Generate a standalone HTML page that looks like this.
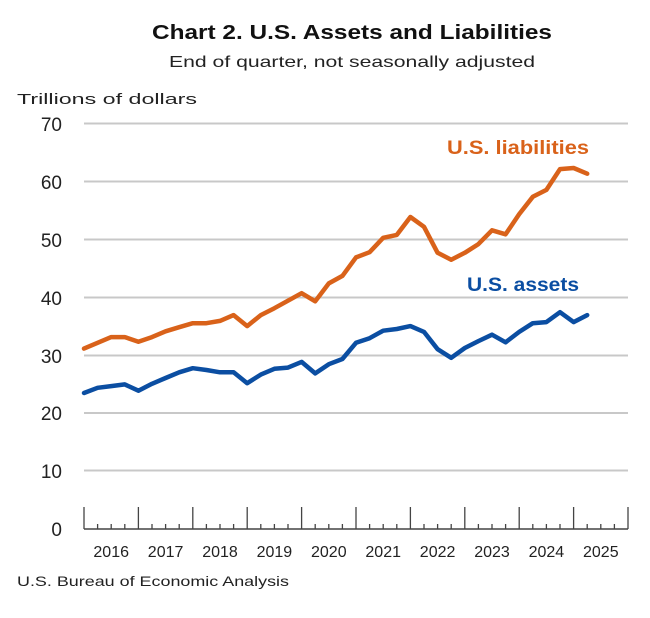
<!DOCTYPE html>
<html><head><meta charset="utf-8"><style>
html,body{margin:0;padding:0;background:#fff;}
svg{display:block;font-family:"Liberation Sans",sans-serif;}
</style></head><body>
<svg width="650" height="618" viewBox="0 0 650 618" xmlns="http://www.w3.org/2000/svg">
<rect width="650" height="618" fill="#fff"/>
<text x="352" y="39" text-anchor="middle" font-size="20" font-weight="bold" fill="#111" textLength="400" lengthAdjust="spacingAndGlyphs">Chart 2. U.S. Assets and Liabilities</text>
<text x="352" y="67" text-anchor="middle" font-size="16" fill="#222" textLength="366" lengthAdjust="spacingAndGlyphs">End of quarter, not seasonally adjusted</text>
<text x="17" y="104" font-size="15" fill="#222" textLength="180" lengthAdjust="spacingAndGlyphs">Trillions of dollars</text>
<g stroke="#c8c8c8" stroke-width="2">
<line x1="84" x2="628" y1="123.5" y2="123.5"/>
<line x1="84" x2="628" y1="181.5" y2="181.5"/>
<line x1="84" x2="628" y1="239.5" y2="239.5"/>
<line x1="84" x2="628" y1="297.5" y2="297.5"/>
<line x1="84" x2="628" y1="355.5" y2="355.5"/>
<line x1="84" x2="628" y1="413" y2="413"/>
<line x1="84" x2="628" y1="470.5" y2="470.5"/>
</g>
<g font-size="19" fill="#222" text-anchor="end">
<text x="62" y="131">70</text><text x="62" y="189">60</text><text x="62" y="247">50</text>
<text x="62" y="305">40</text><text x="62" y="363">30</text><text x="62" y="420">20</text>
<text x="62" y="478">10</text><text x="62" y="536">0</text>
</g>
<g stroke="#444" stroke-width="1.5" fill="none">
<line x1="84" x2="628" y1="529" y2="529"/>
</g>
<g id="tk" stroke="#444" stroke-width="1.3"></g>
<g font-size="16" fill="#222" text-anchor="middle" id="yl"></g>
<polyline id="liab" fill="none" stroke="#D9621A" stroke-width="4.5" stroke-linejoin="round" stroke-linecap="round"/>
<polyline id="ass" fill="none" stroke="#0B4EA2" stroke-width="4.5" stroke-linejoin="round" stroke-linecap="round"/>
<text x="447" y="154" font-size="19" font-weight="bold" fill="#D9621A" textLength="142" lengthAdjust="spacingAndGlyphs">U.S. liabilities</text>
<text x="467" y="291" font-size="19" font-weight="bold" fill="#0B4EA2" textLength="112" lengthAdjust="spacingAndGlyphs">U.S. assets</text>
<text x="17" y="586" font-size="14" fill="#222" textLength="272" lengthAdjust="spacingAndGlyphs">U.S. Bureau of Economic Analysis</text>
<script>
var L=[31.0,32.0,33.0,33.0,32.2,33.0,34.0,34.7,35.4,35.4,35.8,36.8,34.9,36.8,38.0,39.3,40.6,39.2,42.3,43.6,46.8,47.7,50.2,50.7,53.8,52.1,47.6,46.4,47.6,49.1,51.5,50.8,54.3,57.3,58.5,62.1,62.3,61.3];
var A=[23.3,24.2,24.5,24.8,23.7,24.9,25.9,26.9,27.6,27.3,26.9,26.9,25.0,26.5,27.5,27.7,28.7,26.7,28.3,29.2,32.0,32.8,34.1,34.4,34.9,33.9,30.9,29.4,31.1,32.3,33.4,32.1,33.9,35.4,35.6,37.3,35.6,36.8];
function p(a){return a.map(function(v,i){return (84+13.6*i).toFixed(1)+","+(527.5-5.771*v).toFixed(1)}).join(" ")}
document.getElementById("liab").setAttribute("points",p(L));
document.getElementById("ass").setAttribute("points",p(A));
var ns="http://www.w3.org/2000/svg",tk=document.getElementById("tk"),yl=document.getElementById("yl");
for(var i=0;i<=40;i++){var x=84+13.6*i;var l=document.createElementNS(ns,"line");l.setAttribute("x1",x);l.setAttribute("x2",x);l.setAttribute("y1",529);l.setAttribute("y2",i%4==0?507:524);tk.appendChild(l);}
for(var y=0;y<10;y++){var t=document.createElementNS(ns,"text");t.setAttribute("x",84+54.4*y+27.2);t.setAttribute("y",557);t.textContent=2016+y;yl.appendChild(t);}
</script>
</svg>
</body></html>
